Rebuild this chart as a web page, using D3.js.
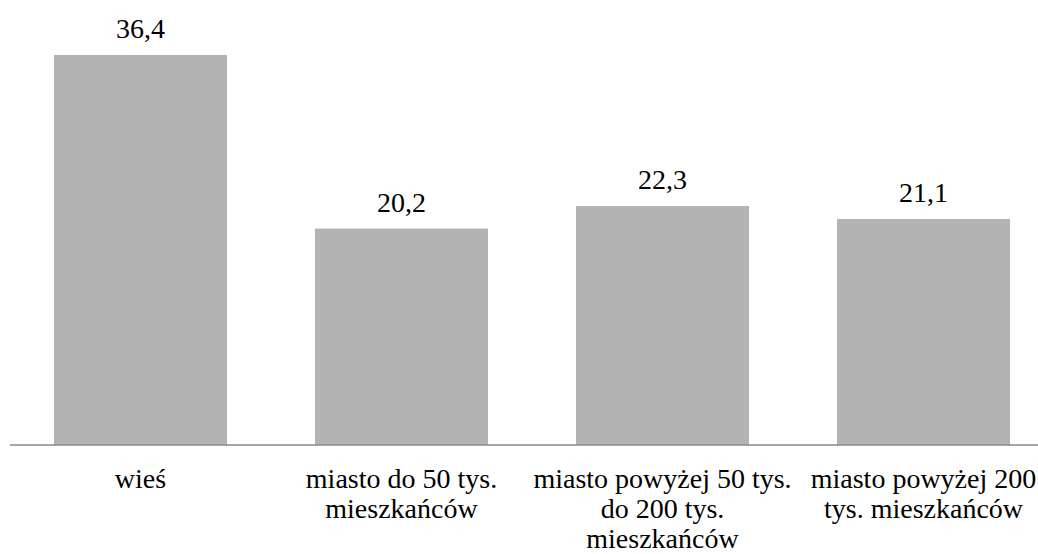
<!DOCTYPE html>
<html>
<head>
<meta charset="utf-8">
<script src="https://cdn.jsdelivr.net/npm/d3@7"></script>
</head>
<body style="margin:0">
<svg id="s" width="1038" height="554"></svg>
<script>
// Place of residence (category label lines) and share values
const categories = [
  "wieś",
  "miasto do 50 tys. mieszkańców",
  "miasto powyżej 50 tys. do 200 tys. mieszkańców",
  "miasto powyżej 200 tys. mieszkańców"
];
const categoryLines = [
  ["wieś"],
  ["miasto do 50 tys.", "mieszkańców"],
  ["miasto powyżej 50 tys.", "do 200 tys.", "mieszkańców"],
  ["miasto powyżej 200", "tys. mieszkańców"]
];
const values = [36.4, 20.2, 22.3, 21.1];
const valueLabels = ["36,4", "20,2", "22,3", "21,1"];

const svg = d3.select("#s");
const W = 1038, baseY = 445;

const xScale = d3.scaleBand()
  .domain(categories)
  .range([10, 1054])
  .paddingInner(0.337)
  .paddingOuter(0.1685);

const yScale = d3.scaleLinear()
  .domain([0, 40])
  .range([baseY, baseY - 40 * (390 / 36.4)]);

const rows = categories.map((c, i) => ({ c, v: values[i], label: valueLabels[i], lines: categoryLines[i] }));
const cx = d => xScale(d.c) + xScale.bandwidth() / 2;

// Bars
svg.selectAll("rect.bar")
  .data(rows)
  .join("rect")
  .attr("class", "bar")
  .attr("x", d => xScale(d.c))
  .attr("width", xScale.bandwidth())
  .attr("y", d => yScale(d.v))
  .attr("height", d => baseY - yScale(d.v))
  .attr("fill", "#b3b3b3");

// Category axis baseline
svg.append("line")
  .attr("x1", 10).attr("x2", W)
  .attr("y1", baseY).attr("y2", baseY)
  .attr("stroke", "#898989")
  .attr("stroke-width", 1.5);

// Value labels above bars
svg.selectAll("text.val")
  .data(rows)
  .join("text")
  .attr("class", "val")
  .attr("x", cx)
  .attr("y", d => yScale(d.v) - 17)
  .attr("font-size", 28)
  .attr("font-family", d => "Liberation Serif")
  .attr("text-anchor", "middle")
  .text(d => d.label);

// Category labels, one text per line
const catLines = rows.flatMap(d => d.lines.map((l, i) => ({ l, i, x: cx(d) })));
svg.selectAll("text.cat")
  .data(catLines)
  .join("text")
  .attr("class", "cat")
  .attr("x", d => d.x)
  .attr("y", d => baseY + 43 + d.i * 30)
  .attr("font-size", 28)
  .attr("font-family", d => "Liberation Serif")
  .attr("text-anchor", "middle")
  .text(d => d.l);
</script>
</body>
</html>
